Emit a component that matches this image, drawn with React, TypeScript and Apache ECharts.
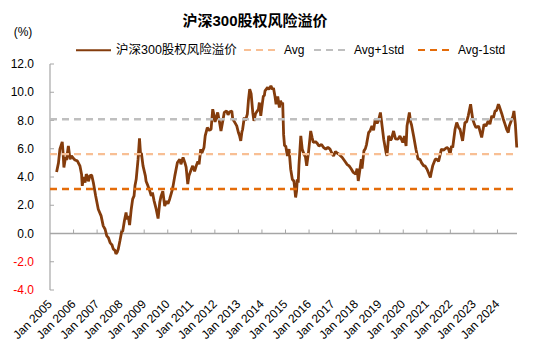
import React, { useEffect, useRef } from 'react';
import * as echarts from 'echarts';

// Decimal-year positions of the readings (x axis)
const years = [
  2005.28, 2005.36, 2005.42, 2005.52, 2005.56, 2005.59, 2005.66, 2005.70, 2005.78, 2005.85,
  2005.91, 2005.99, 2006.06, 2006.16, 2006.27, 2006.34, 2006.37, 2006.42, 2006.49, 2006.54,
  2006.58, 2006.63, 2006.70, 2006.77, 2006.84, 2006.94, 2007.05, 2007.17, 2007.26, 2007.34,
  2007.41, 2007.48, 2007.55, 2007.63, 2007.69, 2007.76, 2007.80, 2007.86, 2007.90, 2007.97,
  2008.04, 2008.09, 2008.16, 2008.23, 2008.27, 2008.32, 2008.38, 2008.45, 2008.51, 2008.57,
  2008.61, 2008.66, 2008.74, 2008.80, 2008.85, 2008.88, 2008.95, 2009.05, 2009.08, 2009.16,
  2009.22, 2009.30, 2009.35, 2009.42, 2009.51, 2009.59, 2009.66, 2009.71, 2009.79, 2009.87,
  2009.95, 2010.01, 2010.08, 2010.18, 2010.22, 2010.30, 2010.41, 2010.51, 2010.56, 2010.65,
  2010.73, 2010.78, 2010.85, 2010.90, 2011.00, 2011.06, 2011.14, 2011.21, 2011.28, 2011.33,
  2011.40, 2011.45, 2011.54, 2011.59, 2011.68, 2011.76, 2011.84, 2011.91, 2011.94, 2012.01,
  2012.12, 2012.19, 2012.26, 2012.32, 2012.40, 2012.50, 2012.56, 2012.62, 2012.72, 2012.76,
  2012.81, 2012.93, 2013.00, 2013.05, 2013.10, 2013.15, 2013.18, 2013.25, 2013.30, 2013.38,
  2013.43, 2013.48, 2013.54, 2013.61, 2013.66, 2013.73, 2013.85, 2013.89, 2013.95, 2014.00,
  2014.06, 2014.10, 2014.13, 2014.24, 2014.30, 2014.38, 2014.45, 2014.49, 2014.55, 2014.60,
  2014.67, 2014.74, 2014.79, 2014.84, 2014.88, 2014.92, 2014.96, 2015.01, 2015.08, 2015.15,
  2015.22, 2015.29, 2015.36, 2015.43, 2015.47, 2015.50, 2015.54, 2015.57, 2015.65, 2015.71,
  2015.79, 2015.85, 2015.90, 2015.98, 2016.07, 2016.13, 2016.18, 2016.27, 2016.34, 2016.42,
  2016.53, 2016.61, 2016.71, 2016.80, 2016.89, 2016.99, 2017.04, 2017.12, 2017.19, 2017.27,
  2017.41, 2017.56, 2017.61, 2017.70, 2017.78, 2017.88, 2017.98, 2018.04, 2018.09, 2018.14,
  2018.22, 2018.25, 2018.33, 2018.39, 2018.44, 2018.53, 2018.59, 2018.67, 2018.74, 2018.81,
  2018.89, 2018.95, 2019.03, 2019.08, 2019.17, 2019.27, 2019.31, 2019.38, 2019.46, 2019.50,
  2019.59, 2019.67, 2019.78, 2019.86, 2019.98, 2020.05, 2020.12, 2020.16, 2020.26, 2020.31,
  2020.35, 2020.44, 2020.54, 2020.63, 2020.71, 2020.78, 2020.87, 2020.92, 2021.01, 2021.07,
  2021.15, 2021.20, 2021.25, 2021.36, 2021.42, 2021.50, 2021.62, 2021.71, 2021.85, 2021.92,
  2021.99, 2022.05, 2022.10, 2022.20, 2022.27, 2022.35, 2022.41, 2022.52, 2022.62, 2022.69,
  2022.76, 2022.86, 2022.95, 2023.03, 2023.09, 2023.20, 2023.33, 2023.43, 2023.51, 2023.61,
  2023.68, 2023.76, 2023.83, 2023.90, 2023.96, 2024.04, 2024.08, 2024.18, 2024.25, 2024.32,
  2024.39, 2024.46, 2024.50, 2024.61, 2024.66, 2024.70, 2024.76, 2024.82,
];

// 沪深300股权风险溢价 (%)
const erp = [
  4.36, 5.0, 5.97, 6.49, 5.6, 4.67, 5.4, 5.2, 6.2, 5.26,
  5.5, 5.33, 5.2, 5.14, 4.79, 4.2, 3.37, 4.0, 3.6, 4.2,
  4.08, 3.7, 4.1, 4.13, 3.61, 2.66, 1.72, 1.25, 0.54, 0.3,
  -0.17, -0.3, -0.64, -0.8, -1.11, -1.2, -1.45, -1.3, -1.1, -0.52,
  0.1, 0.18, 0.9, 1.49, 1.0, 1.25, 0.6, 1.72, 2.43, 2.66,
  3.4, 3.84, 5.26, 6.73, 5.49, 5.7, 4.79, 4.08, 3.7, 3.37,
  3.1, 2.66, 2.9, 2.31, 1.72, 1.06, 2.19, 2.6, 3.0, 1.95,
  2.3, 2.1, 2.43, 3.02, 3.3, 4.08, 5.03, 5.26, 4.9, 5.38,
  5.0, 4.7, 3.5, 4.08, 4.55, 4.79, 4.4, 4.79, 5.1, 4.9,
  5.97, 5.7, 6.09, 6.91, 7.5, 7.3, 7.38, 8.8, 8.57, 7.9,
  8.57, 7.97, 7.26, 7.8, 8.57, 8.68, 8.4, 8.6, 8.68, 8.1,
  7.97, 7.62, 7.15, 6.91, 6.56, 7.2, 7.38, 8.21, 8.0, 8.45,
  9.5, 10.22, 9.9, 8.57, 7.97, 8.5, 8.8, 9.27, 8.33, 9.0,
  9.74, 9.74, 10.1, 10.34, 10.2, 10.45, 10.2, 10.3, 9.74, 9.15,
  9.7, 8.92, 9.4, 9.15, 9.27, 7.0, 6.2, 6.2, 5.49, 5.97,
  4.55, 3.84, 3.7, 2.55, 3.0, 3.84, 3.6, 4.79, 6.91, 5.97,
  5.6, 5.4, 4.79, 5.8, 7.26, 6.8, 6.44, 6.5, 6.4, 6.2,
  6.3, 6.1, 5.97, 6.1, 5.97, 5.61, 5.49, 5.8, 5.7, 5.61,
  5.38, 5.03, 4.9, 4.79, 4.6, 4.32, 4.2, 4.6, 3.72, 4.3,
  5.26, 4.6, 5.85, 6.0, 6.3, 7.15, 7.26, 7.62, 7.3, 8.09,
  7.8, 8.0, 8.57, 7.9, 6.68, 5.73, 5.49, 6.91, 6.6, 6.7,
  7.26, 6.7, 6.68, 6.9, 6.44, 6.9, 6.2, 7.62, 8.57, 7.9,
  7.7, 6.91, 5.97, 5.26, 5.26, 5.0, 4.79, 4.79, 4.55, 4.3,
  3.96, 4.4, 4.79, 5.26, 5.26, 5.1, 5.97, 5.9, 6.09, 6.0,
  5.61, 6.2, 6.09, 7.38, 7.86, 7.5, 7.38, 6.56, 7.86, 7.9,
  8.33, 9.15, 8.09, 7.7, 7.5, 7.6, 6.8, 7.74, 7.6, 7.97,
  7.74, 8.33, 8.2, 8.68, 8.7, 9.15, 9.0, 8.5, 8.09, 7.74,
  7.38, 7.15, 7.6, 8.09, 8.3, 8.68, 7.74, 6.09,
];

const AVG = 5.62;
const STD = 2.47;
const X_MIN = 2005;
const X_MAX = 2024.83;
const Y_MIN = -4;
const Y_MAX = 12;
const tickYears = Array.from({ length: 20 }, (_, i) => 2005 + i);
const yTickValues = [-4, -2, 0, 2, 4, 6, 8, 10, 12];
const seriesNames = ['沪深300股权风险溢价', 'Avg', 'Avg+1std', 'Avg-1std'];
const TITLE = '沪深300股权风险溢价';

const FONT = '"Liberation Sans", Arial, "Noto Sans CJK SC", sans-serif';
const AXIS_GRAY = '#A6A6A6';

export default function App() {
  const ref = useRef<HTMLDivElement>(null);

  useEffect(() => {
    if (!ref.current) return;
    const chart = echarts.init(ref.current, undefined, { renderer: 'svg' });

    const mainData = years.map((x, i) => [x, erp[i]]);
    const flat = (v: number) => [[X_MIN, v], [X_MAX, v]];
    const isYear = (v: number) => Math.abs(v - Math.round(v)) < 1e-6 && v < 2024.5;

    const legendBase = {
      top: 44,
      itemWidth: 35,
      itemHeight: 12,
      itemGap: 4,
      padding: 0,
      itemStyle: { opacity: 0 },
      textStyle: { fontSize: 12, color: '#000', fontFamily: FONT },
    };

    const option: any = {
      animation: false,
      backgroundColor: '#fff',
      textStyle: { fontFamily: FONT },
      legend: [
        { ...legendBase, left: 75, data: [seriesNames[0]], textStyle: { ...legendBase.textStyle, fontSize: 12.5 } },
        { ...legendBase, left: 243, data: [seriesNames[1]] },
        { ...legendBase, left: 313, data: [seriesNames[2]] },
        { ...legendBase, left: 417, data: [seriesNames[3]] },
      ],
      grid: { left: 50, right: 33, top: 64, bottom: 65, containLabel: false },
      xAxis: {
        type: 'value',
        min: X_MIN,
        max: X_MAX,
        interval: 1,
        position: 'bottom',
        axisLine: { show: false, onZero: false },
        axisTick: { show: false },
        splitLine: { show: false },
        axisLabel: {
          rotate: 45,
          margin: 12,
          fontSize: 12,
          color: '#000',
          fontFamily: FONT,
          formatter: (v: number) => (isYear(v) ? 'Jan ' + Math.round(v) : ''),
        },
      },
      yAxis: {
        type: 'value',
        min: Y_MIN,
        max: Y_MAX,
        interval: 2,
        axisLine: { show: false, onZero: false },
        axisTick: { show: false },
        splitLine: { show: false },
        axisLabel: {
          margin: 16,
          fontSize: 12,
          fontFamily: FONT,
          formatter: (v: number) => v.toFixed(1),
          color: (v: any) => (Number(v) < 0 ? '#FF0000' : '#000'),
        },
      },
      series: [
        {
          name: seriesNames[0],
          type: 'line',
          data: mainData,
          symbol: 'none',
          lineStyle: { color: '#843C0C', width: 2.8 },
          itemStyle: { color: '#843C0C' },
          z: 2,
        },
        {
          name: seriesNames[1],
          type: 'line',
          data: flat(AVG),
          symbol: 'none',
          lineStyle: { color: '#F8BF94', width: 2.3, type: [7, 5] },
          itemStyle: { color: '#F8BF94' },
          z: 3,
        },
        {
          name: seriesNames[2],
          type: 'line',
          data: flat(AVG + STD),
          symbol: 'none',
          lineStyle: { color: '#BFBFBF', width: 2.3, type: [7, 5] },
          itemStyle: { color: '#BFBFBF' },
          z: 3,
        },
        {
          name: seriesNames[3],
          type: 'line',
          data: flat(AVG - STD),
          symbol: 'none',
          lineStyle: { color: '#E46C0A', width: 2.6, type: [7, 5] },
          itemStyle: { color: '#E46C0A' },
          z: 3,
        },
      ],
    };

    chart.setOption(option);

    // Axis frame (zero line, left axis line, ticks) placed through the chart's own scales
    const px = (x: number, y: number) => chart.convertToPixel({ gridIndex: 0 }, [x, y]) as number[];
    const lineEl = (a: number[], b: number[], w: number) => ({
      type: 'line',
      silent: true,
      z: 1,
      shape: { x1: a[0], y1: a[1], x2: b[0], y2: b[1] },
      style: { stroke: AXIS_GRAY, lineWidth: w },
    });
    const frame: any[] = [];
    frame.push(lineEl(px(X_MIN, 0), px(X_MAX, 0), 1.5));
    frame.push(lineEl(px(X_MIN, Y_MIN), px(X_MIN, Y_MAX), 1.2));
    tickYears.slice(1).forEach((yr) => {
      const p = px(yr, 0);
      frame.push(lineEl(p, [p[0], p[1] - 4], 1));
    });
    yTickValues.forEach((v) => {
      const p = px(X_MIN, v);
      frame.push(lineEl(p, [p[0] + 4, p[1]], 1));
    });

    chart.setOption({
      graphic: [
        {
          type: 'text',
          x: 255,
          y: 20,
          style: {
            text: TITLE,
            align: 'center',
            verticalAlign: 'middle',
            font: 'bold 15px "Liberation Sans", Arial, "Noto Sans CJK SC", sans-serif',
            fill: '#000',
          },
        },
        {
          type: 'text',
          x: 23,
          y: 32,
          style: {
            text: '(%)',
            align: 'center',
            verticalAlign: 'middle',
            font: '12px "Liberation Sans", Arial, sans-serif',
            fill: '#000',
          },
        },
        ...frame,
      ],
    });

    return () => chart.dispose();
  }, []);

  return (
    <div
      ref={ref}
      style={{ position: 'absolute', left: 0, top: 0, width: 550, height: 355, background: '#fff' }}
    />
  );
}
